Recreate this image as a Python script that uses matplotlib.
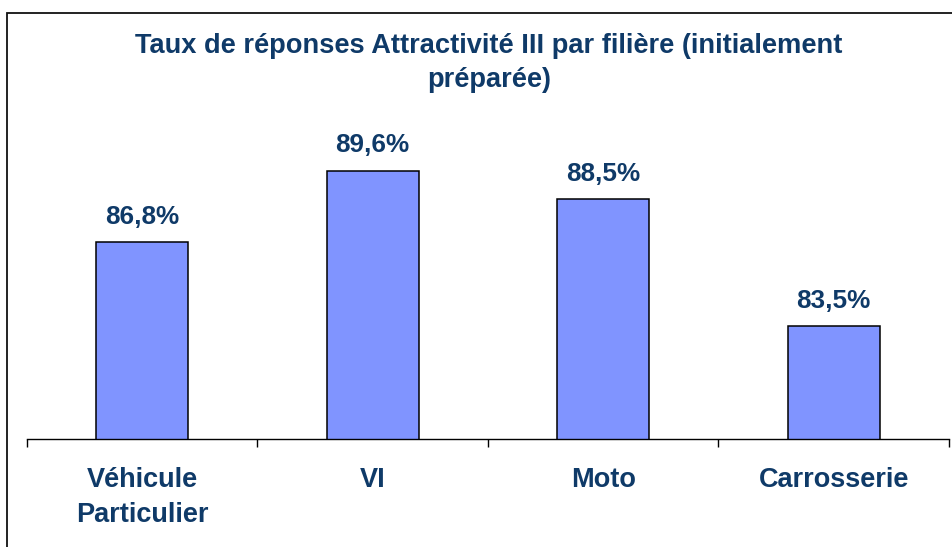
import matplotlib
matplotlib.use("Agg")
import matplotlib.pyplot as plt
from matplotlib.patches import Rectangle
import numpy as np

categories = ["Véhicule\nParticulier", "VI", "Moto", "Carrosserie"]
values = [86.8, 89.6, 88.5, 83.5]
value_labels = ["86,8%", "89,6%", "88,5%", "83,5%"]
title = "Taux de réponses Attractivité III par filière (initialement\npréparée)"

TEXT = "#0F3A68"
BAR = "#8094FF"

plt.rcParams['font.family'] = ['Liberation Sans', 'DejaVu Sans']

W, H = 953, 547
fig = plt.figure(figsize=(W/100, H/100), dpi=100)
ax = fig.add_axes([27/W, (H-439)/H, 922/W, (439-106.6)/H])

x = np.arange(len(categories))
ax.bar(x, values, width=0.4, color=BAR, edgecolor="black", linewidth=1.1, zorder=2)
ax.set_xlim(-0.5, len(categories)-0.5)
ax.set_ylim(79.1, 92.1)

for xi, v, lab in zip(x, values, value_labels):
    ax.annotate(lab, (xi, v), xytext=(0, 13), textcoords="offset points",
                ha="center", va="baseline", fontsize=18.8, fontweight="bold", color=TEXT)

for s in ["top", "right", "left"]:
    ax.spines[s].set_visible(False)
ax.spines["bottom"].set_linewidth(1.0)
ax.set_yticks([])
ax.set_xticks(np.arange(-0.5, len(categories), 1.0))
ax.set_xticklabels([])
ax.tick_params(axis="x", which="major", direction="out", length=6, width=1.0)
ax.set_xticks(x, minor=True)
ax.set_xticklabels(categories, minor=True, fontsize=19.5, fontweight="bold", color=TEXT,
                   linespacing=1.45)
ax.tick_params(axis="x", which="minor", length=0, pad=20)

fig.text(489/W, 1-33/H, title, ha="center", va="top", fontsize=19.6,
         fontweight="bold", color=TEXT, linespacing=1.4)

fig.add_artist(Rectangle((7/W, -0.1), 1.2, (H-13)/H + 0.1, fill=False,
                         edgecolor="#111111", linewidth=1.3, transform=fig.transFigure))

fig.savefig("out.png", dpi=100)
